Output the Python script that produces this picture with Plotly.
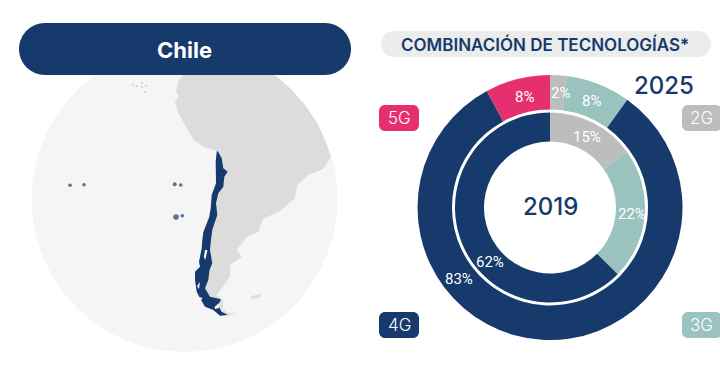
import plotly.graph_objects as go

# --- data ---
techs = ["2G", "3G", "4G", "5G"]
values_2025 = [2, 8, 83, 8]
values_2019 = [15, 22, 62, 0]
year_outer = "2025"
year_inner = "2019"
title_country = "Chile"
title_mix = "COMBINACIÓN DE TECNOLOGÍAS*"

NAVY = "#163A6B"
PINK = "#E62F6E"
GRAY = "#BDBDBD"
TEAL = "#9AC3BF"
tech_colors = [GRAY, TEAL, NAVY, PINK]
W, H = 720, 376
FONT = "Inter"
NARROW = "Roboto"


def dom(cx, cy, r):
    return dict(x=[(cx - r) / W, (cx + r) / W], y=[1 - (cy + r) / H, 1 - (cy - r) / H])


def rrect(x0, y0, x1, y1, r):
    k = r * 0.448
    return (f"M{x0+r},{y0} L{x1-r},{y0} C{x1-k},{y0} {x1},{y0+k} {x1},{y0+r} L{x1},{y1-r} "
            f"C{x1},{y1-k} {x1-k},{y1} {x1-r},{y1} L{x0+r},{y1} C{x0+k},{y1} {x0},{y1-k} {x0},{y1-r} "
            f"L{x0},{y0+r} C{x0},{y0+k} {x0+k},{y0} {x0+r},{y0} Z")


def poly(pts):
    return "M" + " L".join(f"{x},{y}" for x, y in pts) + " Z"


def shape(path, fill):
    return dict(type="path", path=path, xref="x", yref="y", fillcolor=fill, line=dict(width=0), layer="below")


fig = go.Figure()

# islands
isl_x = [70, 84, 174.7, 180.7, 176, 182.3]
isl_y = [185.3, 184.7, 184.3, 185, 217, 215.7]
isl_s = [3.5, 3.5, 4, 3.5, 5.5, 3.5]
fig.add_trace(go.Scatter(x=isl_x, y=isl_y, mode="markers", hoverinfo="skip",
                         marker=dict(color=NAVY, size=isl_s, line=dict(width=0))))
pol_x = [133, 137, 142, 142, 146, 145]
pol_y = [85, 86, 83, 87, 86, 92]
fig.add_trace(go.Scatter(x=pol_x, y=pol_y, mode="markers", hoverinfo="skip",
                         marker=dict(color="#DADADA", size=2.5, line=dict(width=0))))

# donuts
for vals, (r, hole) in ((values_2025, (132.5, 98 / 132.5)), (values_2019, (95, 66 / 95))):
    fig.add_trace(go.Pie(labels=techs, values=vals, sort=False, direction="clockwise", rotation=0,
                         hole=hole, domain=dom(550, 207.5, r), textinfo="none", hoverinfo="label+percent",
                         marker=dict(colors=tech_colors, line=dict(width=0)), showlegend=False))

shapes = []
# sphere
shapes.append(dict(type="circle", xref="x", yref="y", x0=31.5, x1=337.5, y0=46, y1=352,
                   fillcolor="#F5F5F5", line=dict(width=0), layer="below"))
# land
land = [(183, 75), (178, 82), (176, 92), (179, 95), (175, 102), (178, 112), (185, 125), (194, 140), (204, 147), (217, 151),
        (216, 200), (205, 290), (210, 300), (222, 309), (230, 314), (240, 311), (228, 316), (223, 312),
        (223.3, 300), (216.7, 295), (221.7, 288.3), (230, 276.7), (230, 265), (241.7, 256.7), (236.7, 250), (246.7, 236.7),
        (258, 232), (263, 219), (280, 211),
        (295, 198), (297, 186), (308, 175), (323, 169), (331, 157), (328, 148), (318, 124), (305, 105), (291, 89), (275, 75)]
shapes.append(shape(poly(land), "#DCDCDC"))
shapes.append(shape(poly([(250, 296.7), (256, 295), (263, 294.3), (259, 297.5), (253, 299.3)]), "#DCDCDC"))
# Chile
chile = [(217.7, 151), (221.7, 158.3), (223.3, 168.3), (227.7, 171.7), (224.3, 176.7), (223.3, 186.7), (218.3, 193.3),
         (216, 203.3), (217.3, 215), (213.3, 226.7), (212.3, 230), (211, 240), (210, 250), (212.3, 263.3), (209.5, 270),
         (208.3, 280), (205, 288.3), (210, 296.7), (221, 299.3), (218.3, 305), (221.7, 311.7), (227.7, 315), (220, 315.7),
         (213.3, 310), (205, 306.7), (200, 298.3), (196.7, 291.7), (195, 280), (195, 271.7), (200, 266.7), (199, 261.7),
         (201.7, 248.3), (202.3, 240), (203.3, 232.3), (209.3, 216.7), (210.7, 208.3), (211.7, 195), (216, 183.3),
         (215.7, 161.7), (216.7, 151.7)]
shapes.append(shape(poly(chile), NAVY))
for hole_pts in ([(205, 250), (207.5, 250), (205.3, 260), (203.8, 256.7)],
                 [(197, 286), (200, 282), (199, 289)],
                 [(199, 297), (202.5, 298), (201, 300.5)],
                 [(214.5, 306.7), (219.3, 303), (219.3, 308), (215, 309)]):
    shapes.append(shape(poly(hole_pts), "#F5F5F5"))

# pills
shapes.append(shape(rrect(19, 23, 351, 75, 26), NAVY))
shapes.append(shape(rrect(381, 31, 711, 57, 13), "#ECECEC"))
# tags
tag_boxes = {"5G": (379, 105, 419, 131), "2G": (682, 105, 722, 131), "4G": (379, 312, 419, 338), "3G": (682, 312, 722, 338)}
for t, c in zip(techs, tech_colors):
    x0, y0, x1, y1 = tag_boxes[t]
    shapes.append(shape(rrect(x0, y0, x1, y1, 6), c))


def note(x, y, text, size, color="white", family=FONT, weight=None):
    return dict(x=x, y=y, xref="x", yref="y", text=text, showarrow=False, xanchor="center", yanchor="middle",
                font=dict(size=size, color=color, family=family, weight=weight))


ann = [
    note(184, 50, title_country, 22, weight=700),
    note(545, 44.5, title_mix, 17, NAVY, weight=600),
    note(664, 85.5, year_outer, 24, NAVY, weight=500),
    note(550, 206, year_inner, 24, NAVY, weight=500),
]
for t in techs:
    x0, y0, x1, y1 = tag_boxes[t]
    ann.append(note(399 if x0 < 500 else 701, (y0 + y1) / 2, t, 17, weight=300))

pct_pos_2025 = [(560.7, 93), (591, 101), (458.7, 279.3), (524.7, 96.7)]
pct_pos_2019 = [(587, 136.7), (631.7, 214), (490, 261.7)]
for v, (x, y) in zip(values_2025, pct_pos_2025):
    ann.append(note(x, y, f"{v}%", 15, family=NARROW, weight=400))
for v, (x, y) in zip(values_2019, pct_pos_2019):
    ann.append(note(x, y, f"{v}%", 15, family=NARROW, weight=400))

fig.update_layout(
    width=W, height=H, margin=dict(l=0, r=0, t=0, b=0), showlegend=False,
    paper_bgcolor="white", plot_bgcolor="white",
    xaxis=dict(range=[0, W], visible=False, fixedrange=True),
    yaxis=dict(range=[H, 0], visible=False, fixedrange=True),
    shapes=shapes, annotations=ann,
)
fig.write_html("out.html", config=dict(displayModeBar=False),
               post_script="document.body.style.margin='0';document.documentElement.style.overflow='hidden';")
